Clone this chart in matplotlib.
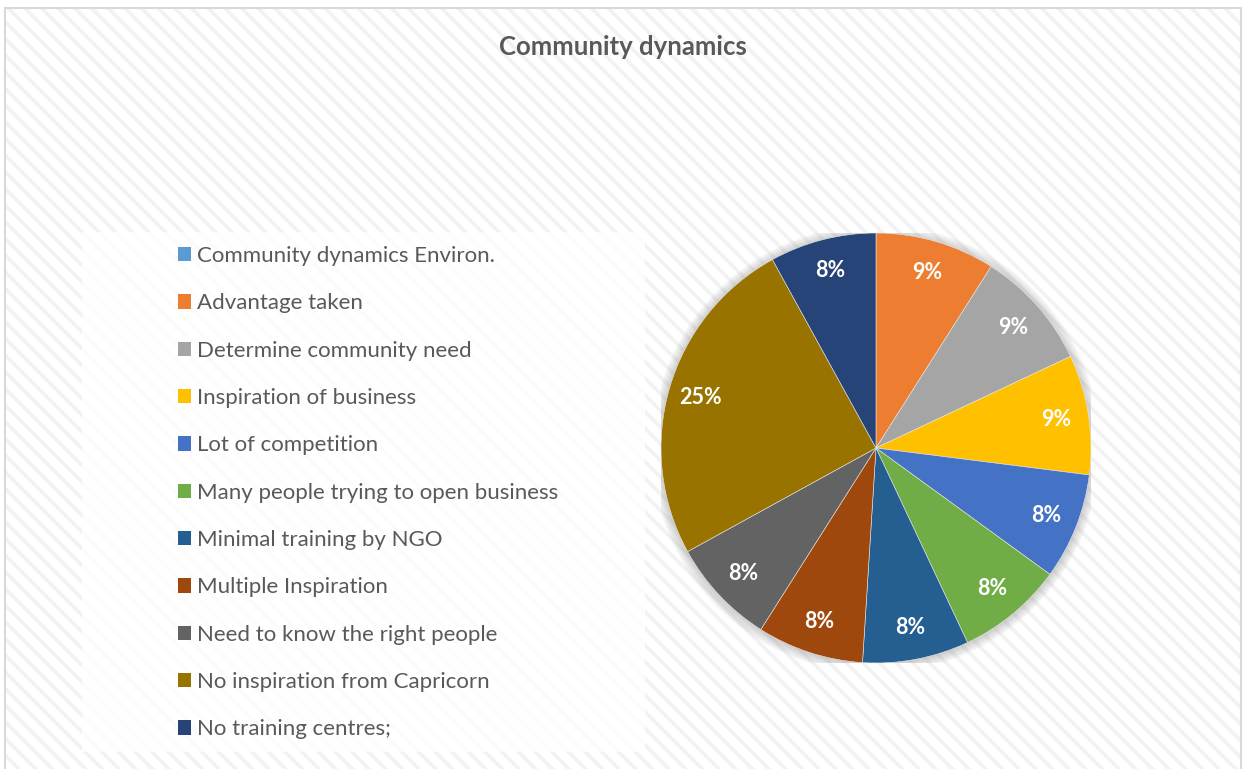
import matplotlib
matplotlib.use("Agg")
import matplotlib.pyplot as plt
from matplotlib.patches import Rectangle, Circle, Patch

plt.rcParams['font.family'] = ['Lato', 'DejaVu Sans']
plt.rcParams['hatch.linewidth'] = 2.6

categories = [
    'Community dynamics Environ.', 'Advantage taken', 'Determine community need',
    'Inspiration of business', 'Lot of competition', 'Many people trying to open business',
    'Minimal training by NGO', 'Multiple Inspiration', 'Need to know the right people',
    'No inspiration from Capricorn', 'No training centres;',
]
shares = [0, 9, 9, 9, 8, 8, 8, 8, 8, 25, 8]
colors = ['#5B9BD5', '#ED7D31', '#A5A5A5', '#FFC000', '#4472C4', '#70AD47',
          '#255E91', '#9E480E', '#636363', '#997300', '#264478']

W, H = 1244, 769
fig = plt.figure(figsize=(W / 100, H / 100), dpi=100)
fig.patch.set_facecolor('white')

# striped chart area, then a thin grey border on top of it
area = ((5 / W, -0.02), (1241 - 5) / W, (H - 8) / H + 0.02)
fig.patches.append(Rectangle(*area, transform=fig.transFigure, facecolor='white',
                             edgecolor='#F2F2F2', linewidth=0, hatch='\\\\', zorder=-3))
fig.patches.append(Rectangle(*area, transform=fig.transFigure, facecolor='none',
                             edgecolor='#D9D9D9', linewidth=1.5, zorder=-2))

fig.text(623 / W, 1 - 47 / H, 'Community dynamics', ha='center', va='center',
         fontsize=18.5, fontweight='bold', color='#595959')

# legend panel
fig.patches.append(Rectangle((82 / W, 1 - 752 / H), (645 - 82) / W, (752 - 232) / H,
                             transform=fig.transFigure, facecolor='white',
                             edgecolor='none', alpha=0.8, zorder=-1))

cx, cy, r = 876, 448, 215
ax = fig.add_axes([(cx - r) / W, (H - cy - r) / H, 2 * r / W, 2 * r / H])
ax.axis('off')

# soft shadow around the pie
for i in range(12):
    ax.add_patch(Circle((0, -0.004), 1.0 + i * 0.004, color='#808080', alpha=0.035,
                        lw=0, zorder=0))

wedges, texts, autotexts = ax.pie(
    shares, colors=colors, startangle=90, counterclock=False, radius=1.0,
    autopct=lambda p: f'{p:.0f}%' if p > 0 else '', pctdistance=0.85,
    wedgeprops=dict(linewidth=0.4, edgecolor='#E8E8E8'),
    textprops=dict(color='white', fontsize=15.5, fontweight='bold'))
for w in wedges:
    w.set_zorder(2)
for t in autotexts:
    t.set_zorder(3)
ax.set_xlim(-1, 1)
ax.set_ylim(-1, 1)

handles = [Patch(facecolor=c, edgecolor='none') for c in colors]
fig.legend(handles, categories, loc='upper left',
           bbox_to_anchor=(158 / W, 1 - 226 / H), frameon=False,
           fontsize=16, labelcolor='#595959', handlelength=0.6,
           handleheight=0.6, handletextpad=0.27, labelspacing=1.23)

fig.savefig('out.png', dpi=100)
